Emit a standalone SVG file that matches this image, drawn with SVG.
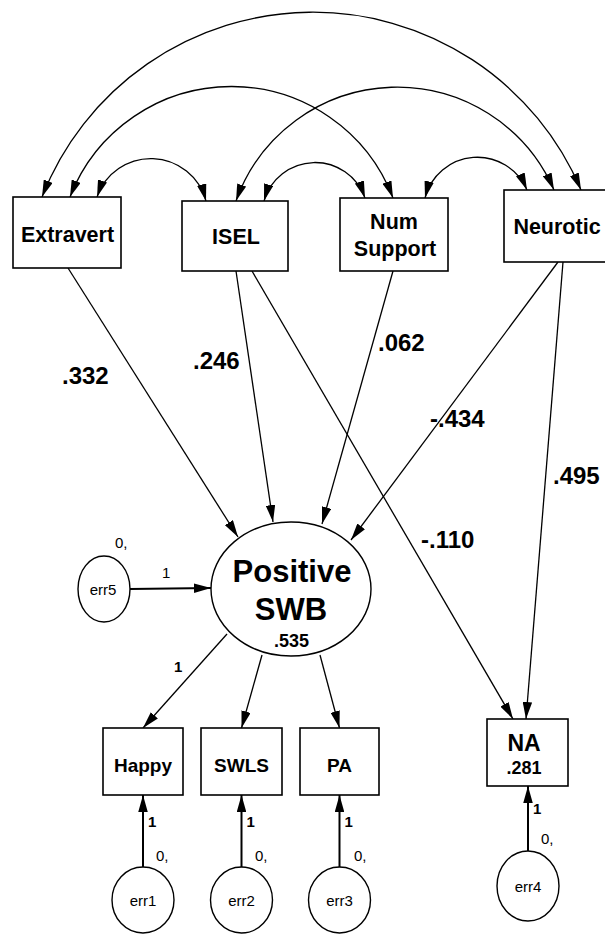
<svg xmlns="http://www.w3.org/2000/svg" width="605" height="934" viewBox="0 0 605 934">
<defs>
<style>
.box{fill:#fff;stroke:#000;stroke-width:1.6}
.circ{fill:#fff;stroke:#000;stroke-width:1.4}
.t{font-family:"Liberation Sans",Arial,sans-serif;font-weight:bold;text-anchor:middle;fill:#000}
.n{font-family:"Liberation Sans",Arial,sans-serif;font-weight:normal;text-anchor:middle;fill:#000}
.lab{font-family:"Liberation Sans",Arial,sans-serif;font-weight:bold;font-size:24px;fill:#000}
.sm{font-family:"Liberation Sans",Arial,sans-serif;font-size:15px;fill:#000}
.p{fill:none;stroke:#000;stroke-width:1.3;marker-end:url(#ah)}
.pe{fill:none;stroke:#000;stroke-width:2;marker-end:url(#ah)}
.c{fill:none;stroke:#000;stroke-width:1.3;marker-start:url(#ah);marker-end:url(#ah)}
</style>
<marker id="ah" viewBox="0 0 17 9.5" refX="17" refY="4.75" markerWidth="17" markerHeight="9.5" markerUnits="userSpaceOnUse" orient="auto-start-reverse">
<path d="M0,0 L17,4.75 L0,9.5 z" fill="#000"/>
</marker>
</defs>
<rect width="605" height="934" fill="#fff"/>

<g id="connectors">
<path class="c" d="M42,197 A291,291 0 0 1 581,190"/>
<path class="c" d="M70,197 A173,173 0 0 1 393,198"/>
<path class="c" d="M236,201 A171,171 0 0 1 554,190"/>
<path class="c" d="M97,197 A57,57 0 0 1 206,201"/>
<path class="c" d="M264,201 A53,53 0 0 1 365,198"/>
<path class="c" d="M425,198 A54,54 0 0 1 527,190"/>
<path class="p" d="M68,268 L238,537"/>
<path class="p" d="M236,271 L273,522"/>
<path class="p" d="M393,271 L322,524"/>
<path class="p" d="M558,262 L351,540"/>
<path class="p" d="M252,271 L513,719"/>
<path class="p" d="M563,262 L526,719"/>
<path class="p" d="M227,634 L143,728"/>
<path class="p" d="M262,655 L241.5,728"/>
<path class="p" d="M320,655 L339.5,728"/>
<path class="pe" d="M130,589 L211,588"/>
<path class="pe" d="M143,867 L143,795"/>
<path class="pe" d="M241.5,867 L241.5,795"/>
<path class="pe" d="M339.5,867 L339.5,795"/>
<path class="pe" d="M528,851 L528,786"/>
<text class="lab" x="62" y="384">.332</text>
<text class="lab" x="193" y="369">.246</text>
<text class="lab" x="378" y="351">.062</text>
<text class="lab" x="430" y="427">-.434</text>
<text class="lab" x="553" y="484">.495</text>
<text class="lab" x="421" y="548">-.110</text>
<text class="sm" x="162" y="578">1</text>
<text class="sm" x="174" y="672" font-weight="bold">1</text>
<text class="sm" x="148" y="827" font-weight="bold">1</text>
<text class="sm" x="246.5" y="827" font-weight="bold">1</text>
<text class="sm" x="344.5" y="827" font-weight="bold">1</text>
<text class="sm" x="533" y="814" font-weight="bold">1</text>
</g>

<g id="extravert"><rect class="box" x="13" y="197" width="108" height="71"/><text class="t" x="67.5" y="242" font-size="21.5">Extravert</text></g>
<g id="isel"><rect class="box" x="182" y="201" width="106" height="70"/><text class="t" x="236" y="244" font-size="21.5">ISEL</text></g>
<g id="numsupport"><rect class="box" x="340" y="198" width="108" height="73"/><text class="t" x="394" y="229" font-size="21.5">Num</text><text class="t" x="395" y="256" font-size="21.5">Support</text></g>
<g id="neurotic"><rect class="box" x="504" y="190" width="108" height="72"/><text class="t" x="557" y="234" font-size="21.5">Neurotic</text></g>

<g id="positiveswb"><ellipse class="circ" cx="291" cy="589" rx="80" ry="67"/><text class="t" x="292" y="582" font-size="31">Positive</text><text class="t" x="291" y="620" font-size="31">SWB</text><text class="t" x="291.5" y="647" font-size="18">.535</text></g>

<g id="err5"><ellipse class="circ" cx="104" cy="589" rx="26" ry="33"/><text class="n" x="103" y="595" font-size="15">err5</text><text class="sm" x="115" y="548">0,</text></g>

<g id="happy"><rect class="box" x="103" y="728" width="80" height="67"/><text class="t" x="143" y="772" font-size="19">Happy</text></g>
<g id="swls"><rect class="box" x="201" y="728" width="81" height="67"/><text class="t" x="241.5" y="772" font-size="19">SWLS</text></g>
<g id="pa"><rect class="box" x="300" y="728" width="79" height="67"/><text class="t" x="339.5" y="772" font-size="19">PA</text></g>
<g id="na"><rect class="box" x="487" y="719" width="81" height="67"/><text class="t" x="524" y="751" font-size="23">NA</text><text class="t" x="524" y="774" font-size="18">.281</text></g>

<g id="err1"><ellipse class="circ" cx="143" cy="900" rx="31" ry="33"/><text class="n" x="143" y="906" font-size="15">err1</text><text class="sm" x="156" y="861">0,</text></g>
<g id="err2"><ellipse class="circ" cx="241.5" cy="900" rx="31" ry="33"/><text class="n" x="241.5" y="906" font-size="15">err2</text><text class="sm" x="255" y="861">0,</text></g>
<g id="err3"><ellipse class="circ" cx="339.5" cy="900" rx="31" ry="33"/><text class="n" x="339.5" y="906" font-size="15">err3</text><text class="sm" x="354" y="861">0,</text></g>
<g id="err4"><ellipse class="circ" cx="528" cy="886" rx="31" ry="35"/><text class="n" x="528" y="892" font-size="15">err4</text><text class="sm" x="541" y="844">0,</text></g>
</svg>
